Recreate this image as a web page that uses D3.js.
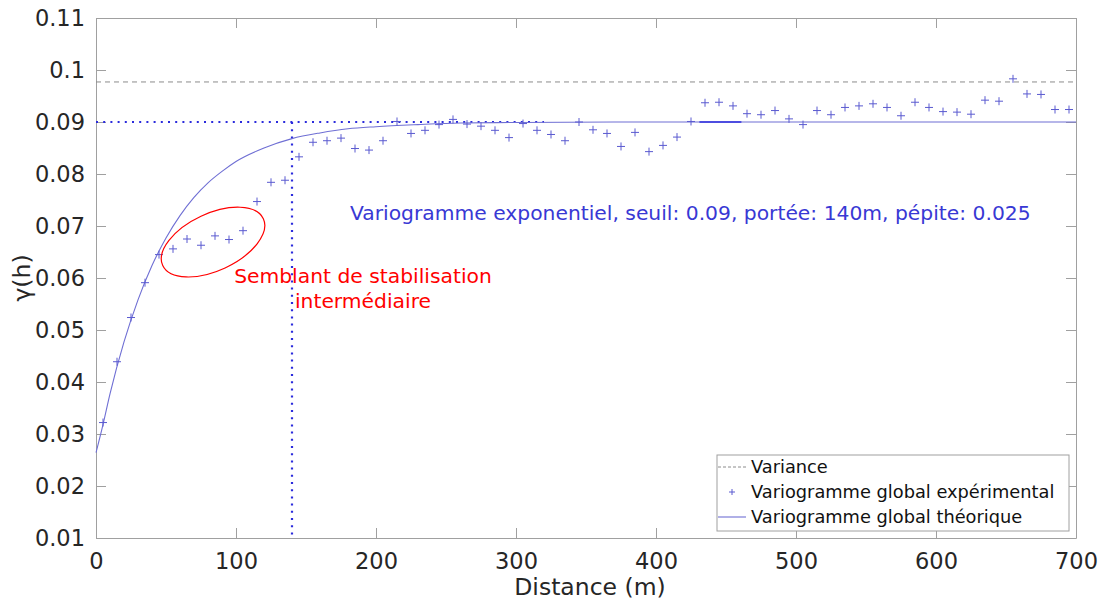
<!DOCTYPE html>
<html>
<head>
<meta charset="utf-8">
<script src="https://cdn.jsdelivr.net/npm/d3@7"></script>
<style>
  html, body { margin: 0; padding: 0; background: #fff; }
  svg { display: block; font-family: "DejaVu Sans", sans-serif; }
</style>
</head>
<body>
<svg id="chart" width="1100" height="601"></svg>
<script>
// ---- data ----
const distances = d3.range(70).map(i => 5 + 10 * i); // lag centres (m)
const gammaExp = [
  0.0322, 0.0439, 0.0524, 0.0591, 0.0645, 0.0656, 0.0675, 0.0663, 0.0681, 0.0674,
  0.0691, 0.0747, 0.0784, 0.0788, 0.0833, 0.0861, 0.0864, 0.0869, 0.0849, 0.0846,
  0.0864, 0.0901, 0.0878, 0.0884, 0.0895, 0.0905, 0.0896, 0.0892, 0.0884, 0.0870,
  0.0897, 0.0884, 0.0876, 0.0864, 0.0900, 0.0885, 0.0878, 0.0853, 0.0880, 0.0843,
  0.0855, 0.0871, 0.0901, 0.0937, 0.0938, 0.0931, 0.0916, 0.0914, 0.0922, 0.0906,
  0.0895, 0.0922, 0.0914, 0.0928, 0.0931, 0.0935, 0.0928, 0.0912, 0.0938, 0.0928,
  0.0920, 0.0919, 0.0915, 0.0942, 0.0940, 0.0983, 0.0954, 0.0953, 0.0924, 0.0924
];
const modelH =     [0, 5, 10, 20, 30, 40, 50, 60, 70, 80, 90, 100, 120, 140, 160, 180, 200, 230, 260, 300, 400, 700];
const modelGamma = [0.0264, 0.0318, 0.0377, 0.0477, 0.0558, 0.0624, 0.0677, 0.0720, 0.0755, 0.0783, 0.0805, 0.0824,
                    0.0850, 0.0868, 0.0879, 0.0887, 0.0891, 0.0895, 0.0898, 0.0899, 0.0900, 0.0900];
const variance = 0.0977;
const sill = 0.09;
const range = 140;
const sillDottedEnd = 320;
const sillSolidSeg = [431, 461];
const xTicks = [0, 100, 200, 300, 400, 500, 600, 700];
const yTicks = [0.01, 0.02, 0.03, 0.04, 0.05, 0.06, 0.07, 0.08, 0.09, 0.1, 0.11];
const legendLabels = ["Variance", "Variogramme global expérimental", "Variogramme global théorique"];
const annotationText = "Variogramme exponentiel, seuil: 0.09, portée: 140m, pépite: 0.025";
const annotationPos = [181.4, 0.0712];
const noteLines = ["Semblant de stabilisation", "intermédiaire"];
const notePos = [190.7, 0.0590, 0.0543];
const ellipseCenter = [83.6, 0.0669];

// ---- layout ----
const W = 1100, H = 601;
const m = { left: 96, right: 24, top: 18, bottom: 63 };
const iw = W - m.left - m.right, ih = H - m.top - m.bottom;
const svg = d3.select("#chart");
const g = svg.append("g").attr("transform", `translate(${m.left},${m.top})`);

const x = d3.scaleLinear().domain([0, 700]).range([0, iw]);
const y = d3.scaleLinear().domain([0.01, 0.11]).range([ih, 0]);

const axisCol = "#a0a0a0", textCol = "#262626";
const fmt = d => d === 0.1 ? "0.1" : d3.format(".2~f")(d);

// axes with inward ticks on all four sides
const axB = g.append("g").attr("transform", `translate(0,${ih})`)
  .call(d3.axisBottom(x).tickValues(xTicks).tickSizeInner(-10).tickSizeOuter(0).tickPadding(15));
const axT = g.append("g")
  .call(d3.axisTop(x).tickValues(xTicks).tickSizeInner(-10).tickSizeOuter(0).tickFormat(""));
const axL = g.append("g")
  .call(d3.axisLeft(y).tickValues(yTicks).tickSizeInner(-10).tickSizeOuter(0).tickPadding(11).tickFormat(fmt));
const axR = g.append("g").attr("transform", `translate(${iw},0)`)
  .call(d3.axisRight(y).tickValues(yTicks).tickSizeInner(-10).tickSizeOuter(0).tickFormat(""));
[axB, axT, axL, axR].forEach(a => {
  a.select(".domain").attr("stroke", axisCol);
  a.selectAll(".tick line").attr("stroke", axisCol);
  a.selectAll(".tick text").attr("fill", textCol).attr("font-size", 22.5)
    .attr("font-family", "DejaVu Sans, sans-serif");
});

// axis labels
svg.append("text").attr("x", m.left + iw / 2 + 4).attr("y", 595)
  .attr("text-anchor", "middle").attr("font-size", 23.5).attr("fill", textCol).text("Distance (m)");
svg.append("text").attr("transform", `translate(30,${m.top + ih / 2}) rotate(-90)`)
  .attr("text-anchor", "middle").attr("font-size", 23.5).attr("fill", textCol).text("γ(h)");

// variance dashed line
g.append("line").attr("x1", x(0)).attr("x2", x(700)).attr("y1", y(variance)).attr("y2", y(variance))
  .attr("stroke", "#8c8c8c").attr("stroke-width", 1).attr("stroke-dasharray", "5,4");

// sill dotted line and range dotted line
const dotCol = "#2b2bdc";
g.append("line").attr("x1", x(0)).attr("x2", x(sillDottedEnd)).attr("y1", y(sill)).attr("y2", y(sill))
  .attr("stroke", dotCol).attr("stroke-width", 2.2).attr("stroke-dasharray", "2,5.2");
g.append("line").attr("x1", x(range)).attr("x2", x(range)).attr("y1", y(sill)).attr("y2", y(0.01))
  .attr("stroke", dotCol).attr("stroke-width", 2.2).attr("stroke-dasharray", "2,5.2");

// theoretical curve
const line = d3.line().x((d, i) => x(modelH[i])).y(d => y(d)).curve(d3.curveMonotoneX);
g.append("path").datum(modelGamma).attr("d", line)
  .attr("fill", "none").attr("stroke", "#6f6fd4").attr("stroke-width", 1.1);
g.append("line").attr("x1", x(sillSolidSeg[0])).attr("x2", x(sillSolidSeg[1]))
  .attr("y1", y(sill)).attr("y2", y(sill)).attr("stroke", "#2b2bdc").attr("stroke-width", 1.4);

// experimental points as "+"
const s = 4;
const plus = `M${-s},0H${s}M0,${-s}V${s}`;
g.append("g").selectAll("path").data(gammaExp).join("path")
  .attr("transform", (d, i) => `translate(${x(distances[i])},${y(d)})`)
  .attr("d", plus).attr("stroke", "#5a5ad0").attr("stroke-width", 1).attr("fill", "none");

// annotations
g.append("text").attr("x", x(annotationPos[0])).attr("y", y(annotationPos[1]))
  .attr("font-size", 20.3).attr("fill", "#3838d4").text(annotationText);
noteLines.forEach((t, i) => {
  g.append("text").attr("x", x(notePos[0])).attr("y", y(notePos[i + 1]))
    .attr("text-anchor", "middle").attr("font-size", 20.3).attr("fill", "#ff0000").text(t);
});
g.append("ellipse").attr("cx", x(ellipseCenter[0])).attr("cy", y(ellipseCenter[1]))
  .attr("rx", 55.5).attr("ry", 28.5)
  .attr("transform", `rotate(-25 ${x(ellipseCenter[0])} ${y(ellipseCenter[1])})`)
  .attr("fill", "none").attr("stroke", "#ff0000").attr("stroke-width", 1.2);

// legend
const lg = svg.append("g").attr("transform", "translate(717,455)");
lg.append("rect").attr("width", 352).attr("height", 76).attr("fill", "#fff").attr("stroke", axisCol);
const rowY = [12, 37, 62];
lg.append("line").attr("x1", 1).attr("x2", 29).attr("y1", rowY[0]).attr("y2", rowY[0])
  .attr("stroke", "#8c8c8c").attr("stroke-dasharray", "3,2");
lg.append("path").attr("transform", `translate(15,${rowY[1]})`).attr("d", `M-3,0H3M0,-3V3`)
  .attr("stroke", "#5a5ad0").attr("fill", "none");
lg.append("line").attr("x1", 1).attr("x2", 29).attr("y1", rowY[2]).attr("y2", rowY[2])
  .attr("stroke", "#6f6fd4").attr("stroke-width", 1.1);
legendLabels.forEach((t, i) => {
  lg.append("text").attr("x", 34).attr("y", rowY[i]).attr("dy", "0.35em")
    .attr("font-size", 17.8).attr("fill", "#111").text(t);
});
</script>
</body>
</html>
